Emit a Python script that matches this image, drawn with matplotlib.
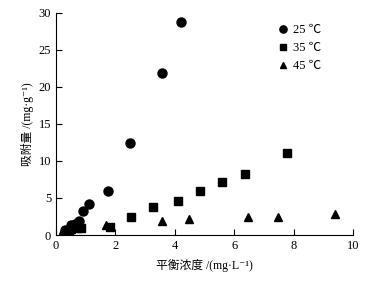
import numpy as np
import matplotlib
matplotlib.use("Agg")
import matplotlib.pyplot as plt

plt.rcParams['font.family'] = ['Liberation Serif', 'Noto Sans CJK SC', 'DejaVu Sans']

#data
x25 = [0.32, 0.51, 0.65, 0.77, 0.92, 1.11, 1.76, 2.49, 3.57, 4.2]
y25 = [0.7, 1.3, 1.5, 1.9, 3.2, 4.2, 6.0, 12.4, 21.9, 28.8]
x35 = [0.45, 0.7, 0.85, 1.81, 2.53, 3.28, 4.1, 4.84, 5.6, 6.36, 7.78]
y35 = [0.3, 1.0, 0.9, 1.15, 2.45, 3.85, 4.65, 5.9, 7.1, 8.3, 11.1]
x45 = [0.25, 0.5, 1.68, 3.57, 4.49, 6.45, 7.46, 9.38]
y45 = [0.7, 0.8, 1.3, 1.85, 2.2, 2.5, 2.5, 2.8]
labels = ['25 ℃', '35 ℃', '45 ℃']

fig = plt.figure(figsize=(3.86, 2.87), dpi=100)
ax = fig.add_axes([0.145, 0.181, 0.77, 0.775])

ax.plot(x25, y25, 'o', color='black', markersize=6.5, label=labels[0])
ax.plot(x35, y35, 's', color='black', markersize=5.8, label=labels[1])
ax.plot(x45, y45, '^', color='black', markersize=5.5, label=labels[2])

ax.set_xlim(0, 10)
ax.set_ylim(0, 30)
ax.set_xticks(np.arange(0, 11, 2))
ax.set_yticks(np.arange(0, 31, 5))
ax.spines['top'].set_visible(False)
ax.spines['right'].set_visible(False)
ax.tick_params(direction='in', length=4, labelsize=9)

ax.set_xlabel('平衡浓度 /(mg·L⁻¹)', fontsize=8.5, labelpad=5)
ax.set_ylabel('吸附量 /(mg·g⁻¹)', fontsize=8.5, labelpad=3)

leg = ax.legend(loc='upper left', bbox_to_anchor=(0.7, 1.0), frameon=False,
                fontsize=9, handletextpad=0.2, labelspacing=0.5,
                markerscale=0.8, handlelength=1.2)

fig.savefig('out.png', dpi=100)
